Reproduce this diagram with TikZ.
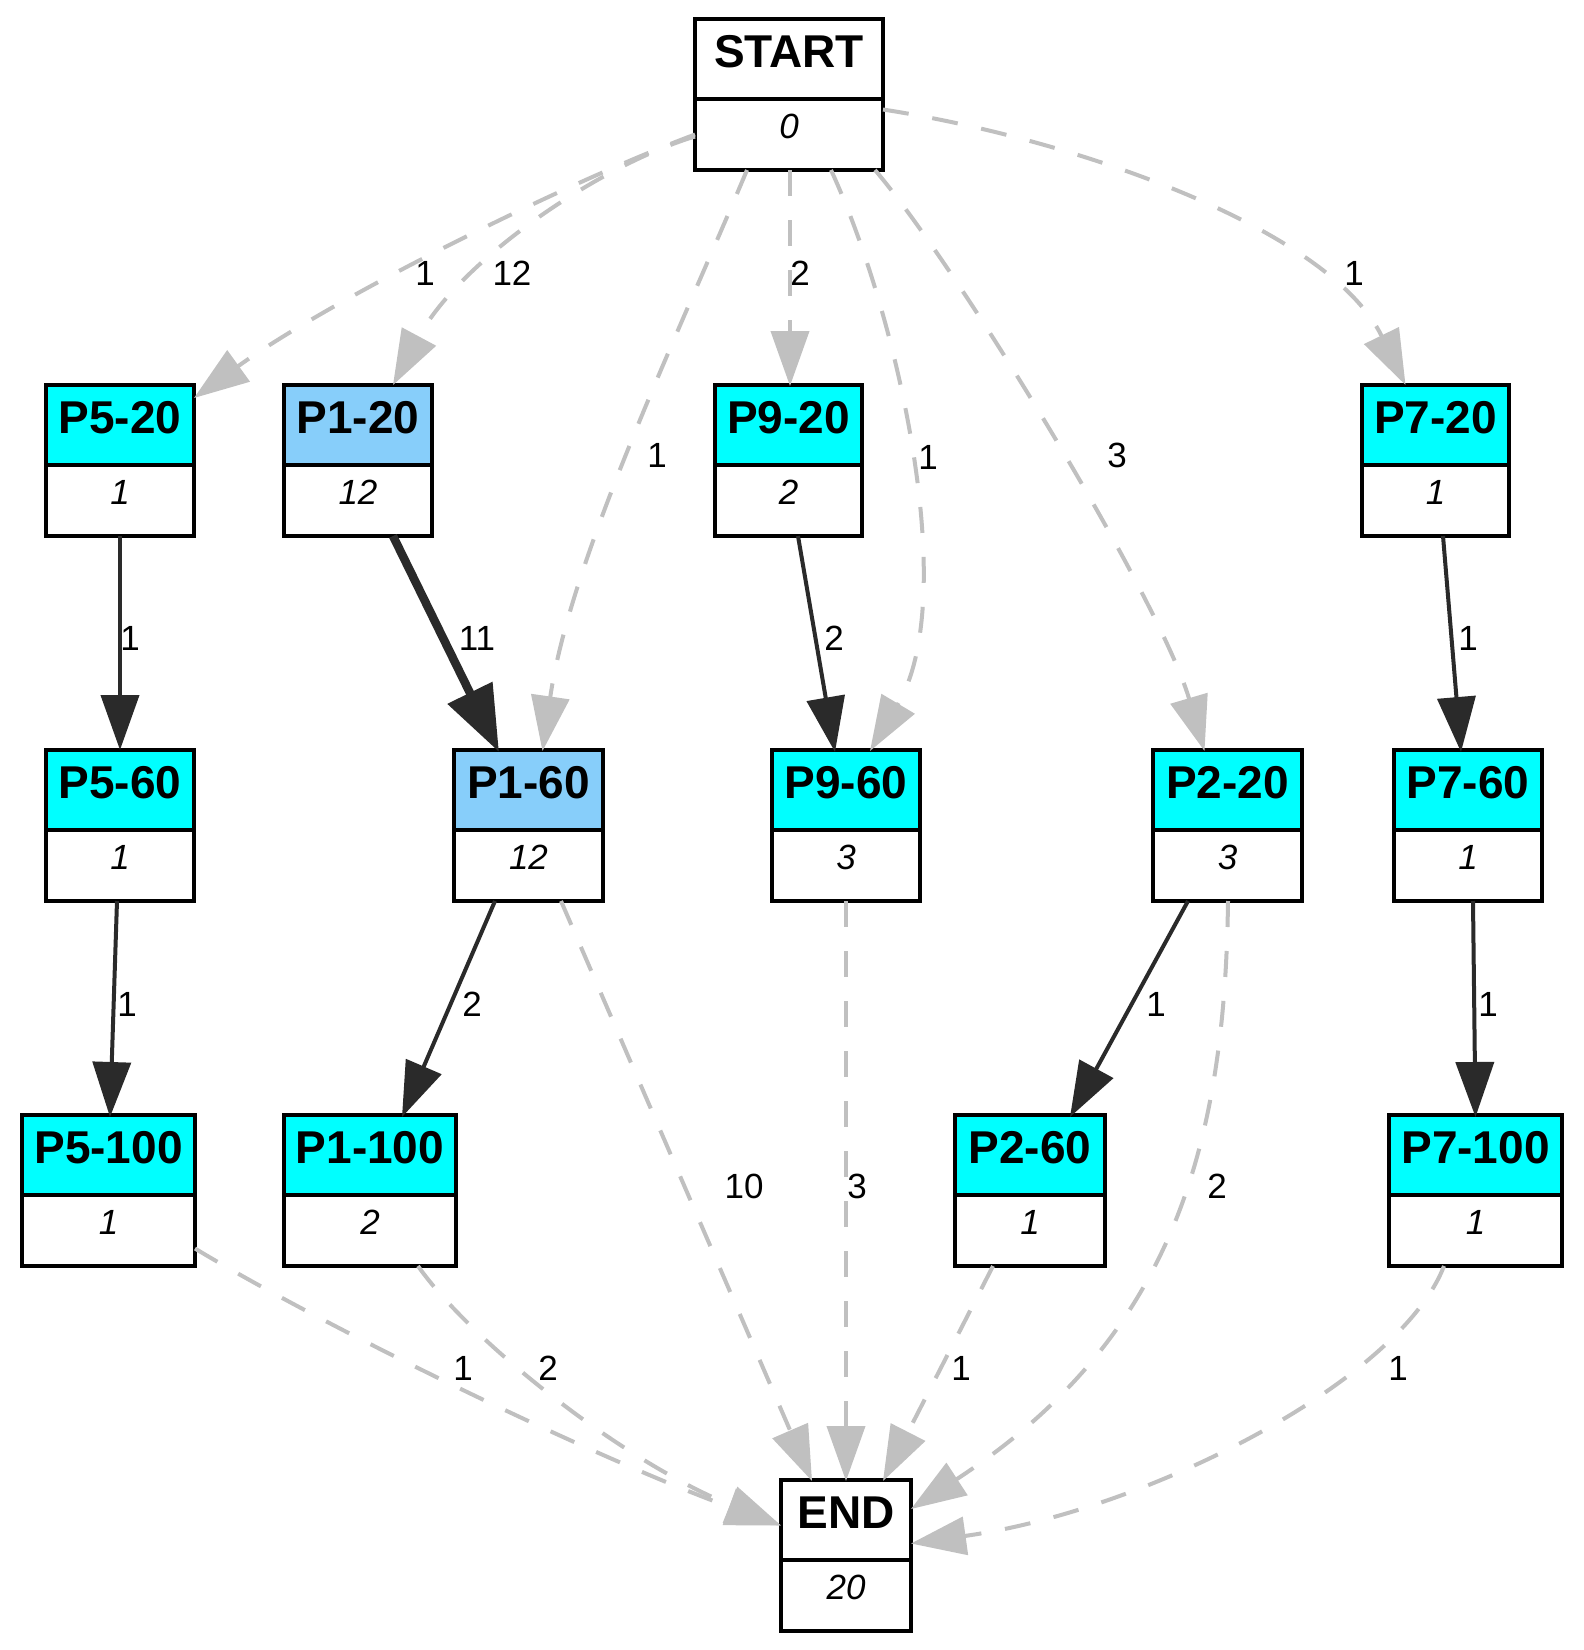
\documentclass[tikz,border=0pt]{standalone}
\usepackage{fontspec}
\setmainfont{Liberation Sans}
\usetikzlibrary{arrows.meta,calc}

\definecolor{edgedark}{RGB}{42,42,42}
\definecolor{edgegray}{RGB}{192,192,192}
\definecolor{hdrcyan}{RGB}{0,255,255}
\definecolor{hdrblue}{RGB}{135,206,250}

\tikzset{
  boxframe/.style={draw=black, line width=4pt, minimum height=151pt,
    inner sep=0pt, outer sep=0pt, anchor=north},
  ttl/.style={font=\fontsize{46}{50}\selectfont\bfseries, anchor=base, inner sep=0pt},
  cnt/.style={font=\fontsize{35}{40}\selectfont\itshape, anchor=base, inner sep=0pt},
  elabel/.style={font=\fontsize{35}{40}\selectfont, inner sep=0pt},
  flow/.style={color=edgedark, line width=4pt,
    -{Triangle[length=55pt,width=38pt]}},
  heavyflow/.style={color=edgedark, line width=8.5pt,
    -{Triangle[length=66pt,width=48pt]}},
  skip/.style={color=edgegray, line width=4pt, dash pattern=on 26pt off 24pt,
    -{Triangle[length=55pt,width=38pt]}},
}

% box with coloured title row and count row:
% name, centre x, top y, width, title fill, title, count
\newcommand{\pbox}[7]{%
  \fill[#5] ({#2-#4/2},{#3+2}) rectangle ({#2+#4/2},{#3+82});
  \node[boxframe, minimum width=#4pt] (#1) at (#2,{#3+2}) {};
  \draw[line width=4pt] ({#2-#4/2},{#3+82}) -- ({#2+#4/2},{#3+82});
  \node[ttl] (#1-t) at (#2,{#3+50}) {#6};
  \node[cnt] (#1-c) at (#2,{#3+121}) {#7};
}

\begin{document}
\begin{tikzpicture}[x=1pt,y=-1pt]
\useasboundingbox[fill=white] (0,0) rectangle (1584,1650);

% boxes
\pbox{START}{789}{17}{188}{white}{START}{0}
\pbox{P5a}{120}{383}{148}{hdrcyan}{P5-20}{1}
\pbox{P1a}{358}{383}{148}{hdrblue}{P1-20}{12}
\pbox{P9a}{788.5}{383}{147}{hdrcyan}{P9-20}{2}
\pbox{P7a}{1435.5}{383}{147}{hdrcyan}{P7-20}{1}
\pbox{P5b}{120}{748}{148}{hdrcyan}{P5-60}{1}
\pbox{P1b}{528.5}{748}{149}{hdrblue}{P1-60}{12}
\pbox{P9b}{846}{748}{148}{hdrcyan}{P9-60}{3}
\pbox{P2a}{1227.5}{748}{149}{hdrcyan}{P2-20}{3}
\pbox{P7b}{1468}{748}{148}{hdrcyan}{P7-60}{1}
\pbox{P5c}{108.5}{1113}{173}{hdrcyan}{P5-100}{1}
\pbox{P1c}{370}{1113}{172}{hdrcyan}{P1-100}{2}
\pbox{P2b}{1030}{1113}{150}{hdrcyan}{P2-60}{1}
\pbox{P7c}{1475.5}{1113}{173}{hdrcyan}{P7-100}{1}
\pbox{END}{846}{1478}{130}{white}{END}{20}

% edges leaving START
\draw[skip] ($(START.west)+(0,40)$) .. controls (560,185) and (330,300) .. ($(P5a.north east)+(0,13)$);
\draw[skip] ($(START.west)+(0,42)$) .. controls (600,165) and (460,260) .. ($(P1a.north)+(35,0)$);
\draw[skip] ($(START.south)+(-42,0)$) .. controls (680,330) and (570,560) .. ($(P1b.north)+(14,1)$);
\draw[skip] ($(START.south)+(1,0)$) -- ($(P9a.north)+(1.5,1)$);
\draw[skip] ($(START.south)+(42,0)$) .. controls (900,320) and (960,600) .. ($(P9b.north)+(24,1)$);
\draw[skip] ($(START.south)+(86,0)$) .. controls (960,270) and (1160,600) .. ($(P2a.north)+(-23,1)$);
\draw[skip] ($(START.east)+(0,15)$) .. controls (1080,140) and (1330,230) .. ($(P7a.north)+(-30,0)$);

% second level
\draw[flow] (P5a.south) -- (P5b.north);
\draw[heavyflow] ($(P1a.south)+(35,0)$) -- ($(P1b.north)+(-29.5,2)$);
\draw[flow] ($(P9a.south)+(9.5,0)$) -- ($(P9b.north)+(-11,2)$);
\draw[flow] ($(P7a.south)+(7.5,0)$) -- ($(P7b.north)+(-7,2)$);

% third level
\draw[flow] ($(P5b.south)+(-3,0)$) -- ($(P5c.north)+(1.5,2)$);
\draw[flow] ($(P1b.south)+(-33.5,0)$) -- ($(P1c.north)+(32,2)$);
\draw[flow] ($(P2a.south)+(-39.5,0)$) -- ($(P2b.north)+(40,2)$);
\draw[flow] ($(P7b.south)+(5,0)$) -- ($(P7c.north)+(0,2)$);

% edges into END
\draw[skip] ($(P1b.south)+(32.5,0)$) -- ($(END.north)+(-34,1)$);
\draw[skip] (P9b.south) -- ($(END.north)+(0,1)$);
\draw[skip] ($(P2a.south)+(0.5,0)$) .. controls (1225,1150) and (1170,1340) .. ($(END.north east)+(0,29)$);
\draw[skip] ($(P5c.east)+(0,58)$) .. controls (330,1330) and (600,1460) .. ($(END.west)+(0,-30)$);
\draw[skip] ($(P1c.south)+(48,0)$) .. controls (470,1340) and (620,1460) .. ($(END.west)+(0,-30)$);
\draw[skip] ($(P2b.south)+(-37,0)$) -- ($(END.north east)+(-28,1)$);
\draw[skip] ($(P7c.south)+(-31.5,0)$) .. controls (1400,1380) and (1150,1510) .. ($(END.east)+(0,-12)$);

% edge labels
\node[elabel] (l01) at (425,273) {1};
\node[elabel] (l02) at (512,273) {12};
\node[elabel] (l03) at (800,273) {2};
\node[elabel] (l04) at (1354,273) {1};
\node[elabel] (l05) at (657,455) {1};
\node[elabel] (l06) at (928,457) {1};
\node[elabel] (l07) at (1117,455) {3};
\node[elabel] (l08) at (130,638) {1};
\node[elabel] (l09) at (477,638) {11};
\node[elabel] (l10) at (834,638) {2};
\node[elabel] (l11) at (1468,638) {1};
\node[elabel] (l12) at (127,1004) {1};
\node[elabel] (l13) at (472,1004) {2};
\node[elabel] (l14) at (1156,1004) {1};
\node[elabel] (l15) at (1488,1004) {1};
\node[elabel] (l16) at (744,1186) {10};
\node[elabel] (l17) at (857,1186) {3};
\node[elabel] (l18) at (1217,1186) {2};
\node[elabel] (l19) at (463,1368) {1};
\node[elabel] (l20) at (548,1368) {2};
\node[elabel] (l21) at (961,1368) {1};
\node[elabel] (l22) at (1398,1368) {1};
\end{tikzpicture}
\end{document}
